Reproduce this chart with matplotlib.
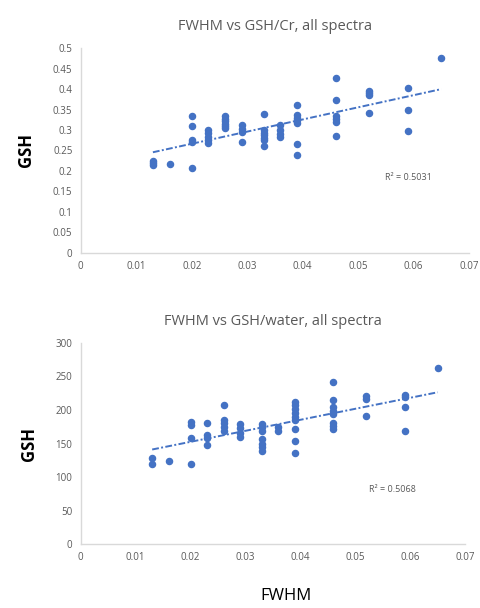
import numpy as np
import matplotlib
matplotlib.use("Agg")
import matplotlib.pyplot as plt

plt.rcParams['font.family'] = ['Open Sans', 'DejaVu Sans']

blue = "#4472C4"
grey = "#595959"

# --- data: FWHM vs GSH/Cr ---
cr_fwhm = [0.013, 0.013, 0.013, 0.016,
           0.020, 0.020, 0.020, 0.020, 0.020,
           0.023, 0.023, 0.023, 0.023, 0.023,
           0.026, 0.026, 0.026, 0.026, 0.026, 0.026,
           0.029, 0.029, 0.029, 0.029,
           0.033, 0.033, 0.033, 0.033, 0.033, 0.033, 0.033,
           0.036, 0.036, 0.036, 0.036,
           0.039, 0.039, 0.039, 0.039, 0.039, 0.039, 0.039,
           0.046, 0.046, 0.046, 0.046, 0.046, 0.046,
           0.052, 0.052, 0.052, 0.052,
           0.059, 0.059, 0.059,
           0.065]
cr_gsh = [0.225, 0.220, 0.215, 0.217,
          0.333, 0.310, 0.276, 0.270, 0.207,
          0.301, 0.292, 0.283, 0.275, 0.269,
          0.333, 0.328, 0.321, 0.315, 0.309, 0.305,
          0.311, 0.303, 0.295, 0.270,
          0.338, 0.299, 0.292, 0.287, 0.281, 0.275, 0.262,
          0.311, 0.301, 0.291, 0.283,
          0.360, 0.336, 0.330, 0.324, 0.317, 0.265, 0.239,
          0.426, 0.374, 0.333, 0.327, 0.319, 0.285,
          0.395, 0.390, 0.386, 0.342,
          0.403, 0.350, 0.297,
          0.476]

# --- data: FWHM vs GSH/water ---
w_fwhm = [0.013, 0.013, 0.016,
          0.020, 0.020, 0.020, 0.020,
          0.023, 0.023, 0.023, 0.023,
          0.026, 0.026, 0.026, 0.026, 0.026,
          0.029, 0.029, 0.029, 0.029,
          0.033, 0.033, 0.033, 0.033, 0.033, 0.033, 0.033,
          0.036, 0.036,
          0.039, 0.039, 0.039, 0.039, 0.039, 0.039, 0.039, 0.039, 0.039,
          0.046, 0.046, 0.046, 0.046, 0.046, 0.046, 0.046, 0.046,
          0.052, 0.052, 0.052,
          0.059, 0.059, 0.059, 0.059,
          0.065]
w_gsh = [129, 119, 124,
         182, 178, 158, 120,
         181, 163, 158, 148,
         207, 185, 180, 175, 168,
         179, 173, 166, 160,
         179, 174, 168, 157, 150, 145, 139,
         175, 169,
         212, 207, 202, 195, 190, 185, 172, 154, 136,
         242, 215, 204, 199, 194, 180, 176, 172,
         221, 217, 191,
         222, 219, 204, 169,
         262]

xticks = [0, 0.01, 0.02, 0.03, 0.04, 0.05, 0.06, 0.07]
xticklabels = ["0", "0.01", "0.02", "0.03", "0.04", "0.05", "0.06", "0.07"]
cr_yticks = [0, 0.05, 0.1, 0.15, 0.2, 0.25, 0.3, 0.35, 0.4, 0.45, 0.5]
cr_yticklabels = ["0", "0.05", "0.1", "0.15", "0.2", "0.25", "0.3", "0.35", "0.4", "0.45", "0.5"]
w_yticks = [0, 50, 100, 150, 200, 250, 300]


def panel(ax, x, y, title, yticks, ytl, ymax, r2, r2pos):
    x = np.array(x)
    y = np.array(y)
    ax.plot(x, y, 'o', color=blue, ms=4.4, mec=blue)
    k, b = np.polyfit(x, y, 1)
    xs = np.array([x.min(), x.max()])
    ax.plot(xs, k * xs + b, color=blue, lw=1.4, dashes=(3.5, 1.2, 1, 1.2))
    ax.set_xlim(0, 0.07)
    ax.set_ylim(0, ymax)
    ax.set_xticks(xticks)
    ax.set_xticklabels(xticklabels)
    ax.set_yticks(yticks)
    ax.set_yticklabels(ytl)
    ax.tick_params(length=0, labelsize=7, colors=grey, pad=6)
    for s in ["top", "right"]:
        ax.spines[s].set_visible(False)
    for s in ["left", "bottom"]:
        ax.spines[s].set_color("#d9d9d9")
        ax.spines[s].set_linewidth(1)
    ax.set_title(title, fontsize=10.5, color=grey, pad=13)
    ax.set_ylabel("GSH", fontsize=12, fontweight="bold", color="black", labelpad=13)
    ax.text(r2pos[0], r2pos[1], r2, transform=ax.transAxes, fontsize=6.5, color=grey,
            ha="center", va="center")


fig = plt.figure(figsize=(4.81, 6.08), dpi=100)
ax1 = fig.add_axes([0.168, 0.584, 0.807, 0.337])
ax2 = fig.add_axes([0.168, 0.105, 0.799, 0.331])

panel(ax1, cr_fwhm, cr_gsh, "FWHM vs GSH/Cr, all spectra", cr_yticks, cr_yticklabels,
      0.5, "R² = 0.5031", (0.844, 0.367))
panel(ax2, w_fwhm, w_gsh, "FWHM vs GSH/water, all spectra", w_yticks,
      [str(v) for v in w_yticks], 300, "R² = 0.5068", (0.812, 0.27))

fig.text(0.595, 0.007, "FWHM", fontsize=12, color="black", ha="center", va="bottom")

fig.savefig("out.png", dpi=100)
